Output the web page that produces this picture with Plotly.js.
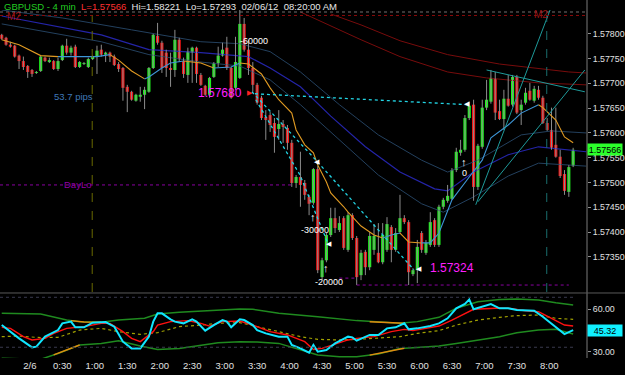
<!DOCTYPE html>
<html>
<head>
<meta charset="utf-8">
<script src="https://cdn.plot.ly/plotly-3.0.1.min.js"></script>
<style>
html,body{margin:0;padding:0;background:#000;overflow:hidden;}
#chart{width:625px;height:375px;}
</style>
</head>
<body>
<div id="chart"></div>
<script>
// ---------- price candles (GBPUSD 4 min) ----------
const openP = [1.57798,1.57792,1.57778,1.57776,1.57756,1.57745,1.57735,1.57727,1.57721,1.57725,
1.57752,1.57743,1.57745,1.57729,1.57747,1.57776,1.57762,1.57774,1.57733,1.57739,
1.57733,1.57749,1.57754,1.57768,1.57758,1.57762,1.57754,1.57739,1.57731,1.57693,
1.57683,1.57665,1.57673,1.57677,1.57683,1.57731,1.57796,1.57782,1.57762,1.57731,
1.57727,1.57788,1.57745,1.57717,1.57762,1.57772,1.57717,1.57695,1.57677,1.57713,
1.57741,1.57756,1.57772,1.57731,1.57691,1.57711,1.57820,1.57768,1.57731,1.57697,
1.57671,1.57632,1.57636,1.57620,1.57608,1.57618,1.57610,1.57580,1.57499,1.57511,
1.57499,1.57471,1.57459,1.57527,1.57309,1.57343,1.57394,1.57428,1.57404,1.57428,
1.57364,1.57434,1.57388,1.57313,1.57360,1.57329,1.57364,1.57358,1.57339,1.57364,
1.57410,1.57364,1.57400,1.57428,1.57420,1.57315,1.57323,1.57398,1.57358,1.57374,
1.57424,1.57374,1.57451,1.57463,1.57467,1.57525,1.57560,1.57566,1.57630,1.57657,
1.57491,1.57572,1.57651,1.57663,1.57709,1.57644,1.57628,1.57669,1.57657,1.57713,
1.57646,1.57661,1.57685,1.57665,1.57687,1.57671,1.57620,1.57606,1.57576,1.57552,
1.57517,1.57481,1.57533];
const highP = [1.57800,1.57794,1.57784,1.57778,1.57758,1.57754,1.57737,1.57729,1.57725,1.57756,
1.57754,1.57752,1.57747,1.57752,1.57778,1.57790,1.57776,1.57778,1.57745,1.57743,
1.57752,1.57756,1.57776,1.57778,1.57764,1.57764,1.57758,1.57743,1.57733,1.57697,
1.57685,1.57679,1.57693,1.57693,1.57733,1.57800,1.57822,1.57786,1.57768,1.57762,
1.57808,1.57792,1.57752,1.57772,1.57774,1.57774,1.57721,1.57697,1.57713,1.57743,
1.57774,1.57782,1.57794,1.57733,1.57794,1.57848,1.57832,1.57788,1.57743,1.57701,
1.57675,1.57646,1.57642,1.57630,1.57646,1.57626,1.57616,1.57586,1.57515,1.57562,
1.57505,1.57475,1.57529,1.57533,1.57348,1.57398,1.57449,1.57449,1.57432,1.57432,
1.57440,1.57438,1.57392,1.57364,1.57364,1.57400,1.57416,1.57418,1.57418,1.57430,
1.57414,1.57408,1.57475,1.57434,1.57424,1.57327,1.57384,1.57402,1.57384,1.57440,
1.57428,1.57455,1.57469,1.57495,1.57529,1.57570,1.57586,1.57636,1.57663,1.57667,
1.57578,1.57667,1.57707,1.57727,1.57723,1.57667,1.57687,1.57717,1.57717,1.57717,
1.57667,1.57691,1.57701,1.57695,1.57695,1.57675,1.57630,1.57651,1.57651,1.57566,
1.57525,1.57535,1.57570];
const lowP = [1.57788,1.57776,1.57772,1.57752,1.57729,1.57727,1.57711,1.57713,1.57719,1.57723,
1.57743,1.57741,1.57727,1.57725,1.57745,1.57758,1.57756,1.57731,1.57731,1.57737,
1.57731,1.57747,1.57719,1.57754,1.57743,1.57743,1.57735,1.57723,1.57665,1.57642,
1.57665,1.57663,1.57663,1.57648,1.57681,1.57729,1.57778,1.57721,1.57713,1.57693,
1.57713,1.57743,1.57711,1.57701,1.57701,1.57701,1.57695,1.57675,1.57671,1.57711,
1.57733,1.57754,1.57727,1.57669,1.57687,1.57709,1.57764,1.57717,1.57683,1.57657,
1.57626,1.57586,1.57602,1.57560,1.57586,1.57580,1.57566,1.57491,1.57489,1.57451,
1.57465,1.57434,1.57455,1.57317,1.57303,1.57339,1.57390,1.57398,1.57400,1.57364,
1.57360,1.57384,1.57293,1.57303,1.57313,1.57323,1.57354,1.57337,1.57335,1.57360,
1.57339,1.57360,1.57396,1.57416,1.57293,1.57311,1.57297,1.57358,1.57354,1.57370,
1.57370,1.57370,1.57446,1.57459,1.57465,1.57521,1.57554,1.57562,1.57626,1.57463,
1.57485,1.57568,1.57646,1.57659,1.57626,1.57626,1.57606,1.57653,1.57653,1.57638,
1.57616,1.57657,1.57665,1.57661,1.57667,1.57618,1.57604,1.57566,1.57550,1.57509,
1.57475,1.57471,1.57531];
const closeP = [1.57790,1.57778,1.57774,1.57754,1.57745,1.57733,1.57723,1.57719,1.57723,1.57754,
1.57745,1.57747,1.57729,1.57745,1.57776,1.57762,1.57772,1.57733,1.57743,1.57741,
1.57749,1.57754,1.57766,1.57758,1.57762,1.57754,1.57737,1.57729,1.57691,1.57683,
1.57667,1.57677,1.57677,1.57687,1.57731,1.57798,1.57782,1.57731,1.57731,1.57727,
1.57788,1.57749,1.57719,1.57764,1.57772,1.57719,1.57697,1.57677,1.57711,1.57741,
1.57756,1.57768,1.57731,1.57671,1.57743,1.57820,1.57768,1.57731,1.57697,1.57661,
1.57630,1.57626,1.57616,1.57592,1.57618,1.57612,1.57580,1.57499,1.57511,1.57495,
1.57475,1.57457,1.57527,1.57323,1.57343,1.57394,1.57428,1.57408,1.57418,1.57368,
1.57434,1.57388,1.57309,1.57358,1.57329,1.57392,1.57392,1.57339,1.57394,1.57416,
1.57364,1.57398,1.57428,1.57420,1.57319,1.57323,1.57370,1.57364,1.57378,1.57420,
1.57374,1.57451,1.57465,1.57473,1.57525,1.57562,1.57566,1.57630,1.57655,1.57491,
1.57574,1.57651,1.57667,1.57711,1.57641,1.57628,1.57669,1.57655,1.57713,1.57641,
1.57657,1.57681,1.57667,1.57689,1.57671,1.57620,1.57606,1.57570,1.57552,1.57513,
1.57483,1.57531,1.57566];

// ---------- time axis ----------
const timeLabels = ['2/6','0:30','1:00','1:30','2:00','2:30','3:00','3:30','4:00','4:30','5:00','5:30','6:00','6:30','7:00','7:30','8:00'];
const timeTickIdx = [6.5,14,21.5,29,36.5,44,51.5,59,66.5,74,81.5,89,96.5,104,111.5,119,126.5];
const priceTicks = [1.5735,1.574,1.5745,1.575,1.5755,1.576,1.5765,1.577,1.5775,1.578];

// ---------- main-panel overlays (candle index, price) ----------
const maIdx = [0,4,9,13,18,22,25,27,30,33,34,37,39,42,46,49,53,55,57,60,62,64,67,68,70,72,73,75,76,79,80,83,86,88,90,92,94,97,99,101,104,108,111,113,117,120,124,125,128,130,132];
const maVal = [1.57788,1.57778,1.57756,1.57754,1.57754,1.57754,1.57758,1.57747,1.57725,1.57709,1.57713,1.57731,1.57741,1.57745,1.57741,1.57731,1.57733,1.57741,1.57739,1.57719,1.57691,1.57667,1.57640,1.57606,1.57576,1.57560,1.57535,1.57501,1.57479,1.57451,1.57440,1.57412,1.57394,1.57388,1.57394,1.57398,1.57380,1.57378,1.57378,1.57398,1.57465,1.57511,1.57545,1.57590,1.57616,1.57640,1.57657,1.57651,1.57626,1.57592,1.57580];

const envUpIdx = [0,14,30,46,55,62,69,78,87,97,103,110,120,127,135];
const envUpVal = [1.57848,1.57832,1.57808,1.57784,1.57780,1.57764,1.57723,1.57657,1.57596,1.57545,1.57521,1.57545,1.57596,1.57604,1.57600];
const envMidIdx = [0,7,23,34,46,57,62,69,76,84,92,100,103,109,117,124,135];
const envMidVal = [1.57836,1.57824,1.57798,1.57768,1.57762,1.57754,1.57731,1.57693,1.57634,1.57572,1.57521,1.57487,1.57483,1.57521,1.57556,1.57572,1.57562];
const envLoIdx = [0,23,34,46,55,62,69,78,87,97,102,109,117,124,135];
const envLoVal = [1.57820,1.57784,1.57758,1.57743,1.57735,1.57707,1.57657,1.57586,1.57515,1.57457,1.57440,1.57471,1.57513,1.57539,1.57533];

const red1Idx = [76,83,92,103,115,131,135];
const red1Val = [1.57840,1.57818,1.57786,1.57758,1.57739,1.57723,1.57721];
const red2Idx = [69,73,83,92,103,112,124,135];
const red2Val = [1.57844,1.57828,1.57788,1.57754,1.57723,1.57711,1.57701,1.57697];

const trendAIdx = [109.5,127.1], trendAVal = [1.57455,1.57858];
const trendBIdx = [110,134.7],   trendBVal = [1.57461,1.57727];
const trendCIdx = [112,134.7],   trendCVal = [1.57727,1.57683];

const zz1Idx = [57.8,72.6,95.2], zz1Val = [1.57683,1.57545,1.57324];
const zz2Idx = [58.7,68.9,75.4], zz2Val = [1.57667,1.57515,1.57376];
const zz3Idx = [58.5,107.5],     zz3Val = [1.57679,1.57657];

// ---------- lower oscillator panel ----------
const cyanIdx = [0,4,7,8,10,13,14,16,17,19,21,24,26,28,30,32,34,35,36,37,39,40,42,44,45,47,49,51,52,53,55,56,58,59,61,64,66,67,69,71,72,73,75,77,80,81,82,85,87,89,91,93,94,96,99,101,103,105,107,108,109,111,113,115,117,119,123,125,127,130,132];
const cyanVal = [48.8,39.5,33.2,33.7,40.7,45.3,50.0,51.2,47.2,47.2,50.5,50.9,47.7,37.2,32.5,32.5,40.7,51.2,57.0,57.0,52.8,51.2,50.0,52.8,51.2,44.9,48.8,52.3,51.2,47.2,52.8,52.3,48.8,45.3,43.0,40.7,40.7,34.9,32.5,29.5,34.9,30.2,31.4,36.0,40.7,40.2,37.9,41.9,41.9,46.5,47.2,50.0,45.8,46.5,48.1,50.0,53.5,60.5,63.5,66.7,59.8,61.6,63.5,60.5,60.5,59.3,58.8,54.6,50.0,42.5,45.32];
const sigIdx = [0,2,5,7,10,12,15,19,23,25,28,30,32,35,36,39,43,46,48,51,55,58,62,66,70,72,74,77,80,82,86,90,93,95,98,101,104,107,109,114,117,121,124,127,130,132];
const sigVal = [47.2,46.5,40.7,38.4,39.5,43.0,46.5,47.7,50.0,50.0,44.2,39.5,37.2,44.2,48.8,51.2,51.9,50.0,48.1,51.2,51.6,48.8,44.2,41.9,37.2,31.8,32.5,35.6,38.4,39.5,40.7,44.2,45.8,44.9,46.5,48.1,52.3,57.0,59.8,60.5,60.5,58.8,58.1,53.5,48.8,48.1];
const avgIdx = [0,4,9,13,18,23,27,32,36,41,46,50,55,59,64,69,73,78,82,87,92,96,101,105,110,115,119,124,128,132];
const avgVal = [40.7,41.1,40.0,40.2,45.3,46.5,44.2,42.3,43.5,47.7,48.8,50.0,50.5,47.7,44.2,40.7,38.8,38.4,38.8,39.5,40.7,43.0,44.9,48.8,52.3,54.2,55.4,55.8,53.5,52.8];
const bandHiIdx = [0,9,15,18,23,27,33,36,41,46,51,55,58,64,73,82,92,96,101,105,110,115,119,124,128,132];
const bandHiVal = [57.0,56.5,52.3,51.2,50.7,52.3,53.5,56.5,57.7,58.4,59.3,60.0,59.8,57.0,54.6,51.9,50.0,51.2,54.2,60.5,65.1,66.7,67.0,66.3,64.4,62.8];
const bandLoIdx = [0,9,13,18,23,27,32,36,41,46,50,55,59,64,69,73,78,82,87,92,96,101,105,110,115,119,124,128,132];
const bandLoVal = [25.6,24.9,29.0,34.9,36.0,37.9,34.2,31.8,32.5,34.9,36.5,37.2,37.0,36.0,31.4,27.9,26.7,26.7,28.6,32.5,33.2,34.2,36.0,38.4,40.7,43.5,45.3,45.8,42.5];
const hiOrangeA = {x:[16,19,23], y:[51.9,51.0,50.7]};
const hiOrangeB = {x:[85,89,93], y:[51.2,50.6,50.0]};
const loOrangeA = {x:[12,15,18], y:[28.0,31.5,34.9]};
const loOrangeB = {x:[85,89,93], y:[27.8,30.0,32.6]};

// ---------- build traces ----------
const FONT = 'Liberation Sans, Arial, sans-serif';
const idx = openP.map((_, i) => i);
function line(x, y, color, width, dash, yaxis) {
  return {type:'scatter', mode:'lines', x:x, y:y, yaxis:yaxis||'y', hoverinfo:'skip',
          line:{color:color, width:width, dash:dash||'solid'}, showlegend:false};
}
function slopeTraces(xs, ys, upC, downC, w) {
  const out = []; let cur = null;
  for (let k = 0; k < xs.length - 1; k++) {
    const c = ys[k+1] < ys[k] ? downC : upC;
    if (!cur || cur.c !== c) { cur = {c:c, x:[xs[k]], y:[ys[k]]}; out.push(cur); }
    cur.x.push(xs[k+1]); cur.y.push(ys[k+1]);
  }
  return out.map(t => line(t.x, t.y, t.c, w));
}

const wx = [], wy = [];
idx.forEach(i => { wx.push(i, i, null); wy.push(lowP[i], highP[i], null); });
const bodyBase = idx.map(i => Math.min(openP[i], closeP[i]));
const bodyH = idx.map(i => Math.max(Math.abs(closeP[i] - openP[i]), 0.00002));
const bodyCol = idx.map(i => closeP[i] >= openP[i] ? '#1cf41c' : '#f41414');

const traces = [
  line(envUpIdx, envUpVal, '#23405e', 1),
  line(envLoIdx, envLoVal, '#23405e', 1),
  line(envMidIdx, envMidVal, '#2424a8', 1.2),
  line(red1Idx, red1Val, '#780c0c', 1),
  line(red2Idx, red2Val, '#780c0c', 1),
  {type:'scatter', mode:'lines', x:wx, y:wy, line:{color:'#8c8c8c', width:1}, hoverinfo:'skip', showlegend:false},
  {type:'bar', x:idx, y:bodyH, base:bodyBase, width:0.72, marker:{color:bodyCol, line:{width:0}}, hoverinfo:'skip', showlegend:false},
  ...slopeTraces(maIdx, maVal, '#3d95d6', '#e09a22', 1.1),
  line(trendAIdx, trendAVal, '#1e9a9a', 1),
  line(trendBIdx, trendBVal, '#1e9a9a', 1),
  line(trendCIdx, trendCVal, '#1e9a9a', 1),
  line(zz1Idx, zz1Val, '#22d4e4', 1.3, 'dot'),
  line(zz2Idx, zz2Val, '#22d4e4', 1.3, 'dot'),
  line(zz3Idx, zz3Val, '#22d4e4', 1.3, 'dot'),
  // oscillator
  line(bandHiIdx, bandHiVal, '#1f8a1f', 1.5, 'solid', 'y2'),
  line(bandLoIdx, bandLoVal, '#1f8a1f', 1.5, 'solid', 'y2'),
  line(hiOrangeA.x, hiOrangeA.y, '#e08a10', 1.5, 'solid', 'y2'),
  line(hiOrangeB.x, hiOrangeB.y, '#e08a10', 1.5, 'solid', 'y2'),
  line(loOrangeA.x, loOrangeA.y, '#e08a10', 1.5, 'solid', 'y2'),
  line(loOrangeB.x, loOrangeB.y, '#e08a10', 1.5, 'solid', 'y2'),
  line(avgIdx, avgVal, '#a0a000', 1.2, 'dot', 'y2'),
  line(sigIdx, sigVal, '#ff1010', 1.4, 'solid', 'y2'),
  line(cyanIdx, cyanVal, '#10e6ff', 2, 'solid', 'y2')
];

// ---------- annotations ----------
function txt(x, y, text, color, size, xanchor, extra) {
  return Object.assign({x:x, y:y, xref:'x', yref:'y', text:text, showarrow:false,
    xanchor:xanchor||'center', yanchor:'middle', font:{family:FONT, size:size, color:color}}, extra||{});
}
const nb = '\u00a0';
const header = '<span style="color:#22cc22">GBPUSD - 4 min</span>' + nb + nb +
  '<span style="color:#ff3030">L=1.57566</span>' + nb + nb +
  '<span style="color:#e8e8e8">Hi=1.58221' + nb + nb + 'Lo=1.57293' + nb + nb + '02/06/12' + nb + nb + '08:20:00 AM</span>';
const annotations = [
  {xref:'paper', yref:'paper', x:0.0034, y:0.983, xanchor:'left', yanchor:'middle', showarrow:false,
   text:header, font:{family:FONT, size:9.5, color:'#e8e8e8'}},
  txt(2.8, 1.57834, 'M2', '#9a1414', 10),
  txt(124.6, 1.57838, 'M2', '#9a1414', 10),
  txt(16.5, 1.57673, '53.7 pips', '#3f78b8', 9.5),
  txt(17.6, 1.57495, 'DayLo', '#9000a8', 9.5),
  txt(55.9, 1.57681, '1.57680', '#ff1fff', 12, 'right'),
  txt(57.4, 1.57681, '\u25B6', '#ff2020', 7),
  txt(98.5, 1.57327, '1.57324', '#ff1fff', 12, 'left'),
  txt(96.3, 1.57327, '\u25C0', '#ffffff', 7),
  txt(54.6, 1.57786, '-60000', '#ffffff', 9, 'left'),
  txt(68.6, 1.57404, '-30000', '#ffffff', 9, 'left'),
  txt(71.9, 1.57299, '-20000', '#ffffff', 9, 'left'),
  txt(107, 1.57519, '0', '#ffffff', 9),
  txt(72, 1.57430, '\u2191', '#ffffff', 11),
  txt(75, 1.57327, '\u2191', '#ffffff', 11),
  txt(106.8, 1.57541, '\u2191', '#ffffff', 11),
  txt(72.9, 1.57543, '\u25C0', '#ffffff', 7),
  txt(75.6, 1.57376, '\u25C0', '#ffffff', 7),
  txt(107.5, 1.57659, '\u25C0', '#ffffff', 7),
  {xref:'paper', yref:'y', x:1, y:closeP[closeP.length-1], xanchor:'left', yanchor:'middle', showarrow:false,
   text:closeP[closeP.length-1].toFixed(5), bgcolor:'#2cff2c', width:34, height:11, borderpad:0, align:'center',
   font:{family:FONT, size:9, color:'#000000'}},
  {xref:'paper', yref:'y2', x:1, y:cyanVal[cyanVal.length-1], xanchor:'left', yanchor:'middle', showarrow:false,
   text:cyanVal[cyanVal.length-1].toFixed(2), bgcolor:'#10f0ff', width:34, height:11, borderpad:0, align:'center',
   font:{family:FONT, size:9, color:'#000000'}}
];

// ---------- shapes ----------
const shapes = [
  {type:'line', xref:'paper', yref:'paper', x0:1, x1:1, y0:0, y1:1, line:{color:'#7a7a7a', width:1}},
  {type:'line', xref:'paper', yref:'paper', x0:0, x1:1.065, y0:0.1816, y1:0.1816, line:{color:'#5a5a5a', width:1}},
  {type:'line', xref:'paper', yref:'y', x0:0, x1:1, y0:1.57844, y1:1.57844, line:{color:'#707070', width:1, dash:'dot'}},
  {type:'line', xref:'paper', yref:'y', x0:0, x1:1, y0:1.57837, y1:1.57837, line:{color:'#8b0a0a', width:1, dash:'dot'}},
  {type:'line', xref:'x', yref:'y', x0:-0.4, x1:67.3, y0:1.57495, y1:1.57495, line:{color:'#8a00a0', width:1, dash:'dot'}},
  {type:'line', xref:'x', yref:'y', x0:82, x1:131, y0:1.57293, y1:1.57293, line:{color:'#8a00a0', width:1, dash:'dot'}},
  {type:'line', xref:'x', yref:'y', x0:78, x1:82, y0:1.57307, y1:1.57307, line:{color:'#8a00a0', width:1, dash:'dot'}},
  {type:'line', xref:'x', yref:'y domain', x0:20.9, x1:20.9, y0:0, y1:0.98, line:{color:'#6a6a00', width:1, dash:'dash'}},
  {type:'line', xref:'x', yref:'y domain', x0:125.9, x1:125.9, y0:0, y1:0.98, line:{color:'#1a6e6e', width:1, dash:'dash'}},
  {type:'line', xref:'paper', yref:'y2', x0:0, x1:0.98, y0:68.2, y1:68.2, line:{color:'#3a3a4e', width:1, dash:'dot'}},
  {type:'line', xref:'paper', yref:'y2', x0:0, x1:0.98, y0:33.3, y1:33.3, line:{color:'#3a3a4e', width:1, dash:'dot'}}
];

const layout = {
  width:625, height:375,
  paper_bgcolor:'#000000', plot_bgcolor:'#000000',
  margin:{l:0, r:38, t:0, b:17},
  showlegend:false, barmode:'overlay',
  font:{family:FONT, size:9, color:'#e0e0e0'},
  xaxis:{range:[-0.4,135.2], anchor:'y2', tickvals:timeTickIdx, ticktext:timeLabels,
         showgrid:false, zeroline:false, showline:false, ticks:'', tickfont:{family:FONT, size:9.5, color:'#e0e0e0'}},
  yaxis:{domain:[0.1844,0.972], range:[1.57279,1.57848], side:'right', anchor:'x',
         tickvals:priceTicks, ticktext:priceTicks.map(v => v.toFixed(5)),
         ticks:'outside', ticklen:3, tickcolor:'#909090', showgrid:false, zeroline:false, showline:false,
         tickfont:{family:FONT, size:8.8, color:'#e0e0e0'}},
  yaxis2:{domain:[0,0.176], range:[25.8,69.8], side:'right', anchor:'x',
          tickvals:[30,60], ticktext:['30.00','60.00'],
          ticks:'outside', ticklen:3, tickcolor:'#909090', showgrid:false, zeroline:false, showline:false,
          tickfont:{family:FONT, size:8.8, color:'#e0e0e0'}},
  shapes:shapes, annotations:annotations
};

Plotly.newPlot('chart', traces, layout, {staticPlot:true, displayModeBar:false});
</script>
</body>
</html>
